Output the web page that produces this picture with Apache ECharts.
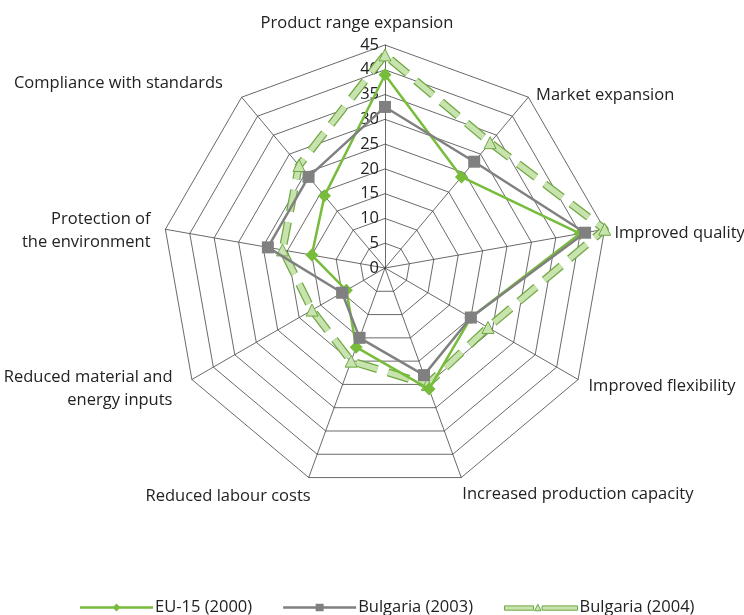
<!DOCTYPE html>
<html>
<head>
<meta charset="utf-8">
<script src="https://cdn.jsdelivr.net/npm/echarts@6/dist/echarts.min.js"></script>
<style>
  html, body { margin: 0; padding: 0; background: #fff; }
  #chart { width: 744px; height: 615px; }
</style>
</head>
<body>
<div id="chart"></div>
<script>
// indicators, counter-clockwise from the top
var indicatorNames = [
  'Product range expansion',
  'Compliance with standards',
  'Protection of\nthe environment',
  'Reduced material and\nenergy inputs',
  'Reduced labour costs',
  'Increased production capacity',
  'Improved flexibility',
  'Improved quality',
  'Market expansion'
];
var axisMax = 45;
var axisSplit = 9;
var eu15 = [39, 19, 15, 9, 17, 26, 20, 40, 24];
var bg2003 = [32.5, 24, 24, 10, 15, 23, 20, 41, 28];
var bg2004 = [43, 27, 21, 17, 20, 25, 24, 45, 33];
var seriesNames = ['EU-15 (2000)', 'Bulgaria (2003)', 'Bulgaria (2004)'];

var green = '#77bc3a';
var grey = '#808080';
var lightGreen = '#c8e3ad';
var darkGreen = '#6ea843';
var textColor = '#222222';

// small per-label nudges so the names sit where the original put them
var namePads = [
  [4, 56, 0, 0],
  [0, 11, 10, 0],
  [8, 3, 0, 0],
  [6, 9, 0, 0],
  [14, -6, 0, 0],
  [10, 0, 0, -3],
  [2, 0, 0, 0],
  [12, 0, 0, -2],
  [14, 0, 0, 0]
];
var nameRich = {};
namePads.forEach(function (p, i) {
  nameRich['n' + i] = { fontSize: 16.5, lineHeight: 23, color: textColor, padding: p };
});

var indicators = indicatorNames.map(function (n, i) {
  var ind = { name: n, max: axisMax, min: 0 };
  if (i === 0) ind.axisLabel = { show: true };
  return ind;
});

var chart = echarts.init(document.getElementById('chart'));

var option = {
  animation: false,
  textStyle: { fontFamily: 'Open Sans' },
  legend: {
    top: 594,
    left: 75,
    itemWidth: 73,
    itemHeight: 10,
    itemGap: 31,
    textStyle: { fontSize: 16.5, color: textColor, padding: [0, 0, 0, -3] },
    data: [
      {
        name: seriesNames[0],
        icon: 'path://M0,3.8L73,3.8L73,6.2L0,6.2Z M32.5,5L36.5,1L40.5,5L36.5,9Z',
        itemStyle: { color: green }
      },
      {
        name: seriesNames[1],
        icon: 'path://M0,3.8L73,3.8L73,6.2L0,6.2Z M32.5,1.3L40.5,1.3L40.5,8.7L32.5,8.7Z',
        itemStyle: { color: grey }
      },
      {
        name: seriesNames[2],
        icon: 'path://M0,3L27,3L27,7L0,7Z M31,1.5L34,7.5L28,7.5Z M35,3L68,3L68,7L35,7Z',
        itemStyle: { color: lightGreen, borderColor: darkGreen, borderWidth: 1 }
      }
    ]
  },
  radar: {
    center: [385, 268],
    radius: 223,
    startAngle: 90,
    shape: 'polygon',
    splitNumber: axisSplit,
    indicator: indicators,
    axisName: {
      color: textColor,
      fontSize: 16.5,
      lineHeight: 23,
      formatter: function (name) {
        var i = indicatorNames.indexOf(name);
        return '{n' + i + '|' + name + '}';
      },
      rich: nameRich
    },
    nameGap: 12,
    axisLine: { lineStyle: { color: '#444', width: 0.8 } },
    splitLine: { lineStyle: { color: '#444', width: 0.8 } },
    splitArea: { show: false },
    axisTick: { show: false },
    axisLabel: { show: false, color: textColor, fontSize: 16.5, margin: 6 }
  },
  series: [
    {
      name: 'bg2004-outline',
      type: 'radar',
      silent: true,
      symbol: 'none',
      z: 1,
      lineStyle: { color: darkGreen, width: 8, type: [22, 11], cap: 'butt' },
      data: [{ value: bg2004, name: 'bg2004-outline' }]
    },
    {
      name: seriesNames[2],
      type: 'radar',
      z: 2,
      symbol: 'triangle',
      symbolSize: 12,
      itemStyle: { color: lightGreen, borderColor: darkGreen, borderWidth: 1 },
      lineStyle: { color: lightGreen, width: 5.5, type: [22, 11], cap: 'butt' },
      data: [{ value: bg2004, name: seriesNames[2] }]
    },
    {
      name: seriesNames[0],
      type: 'radar',
      z: 3,
      symbol: 'diamond',
      symbolSize: 13,
      itemStyle: { color: green },
      lineStyle: { color: green, width: 2.5 },
      data: [{ value: eu15, name: seriesNames[0] }]
    },
    {
      name: seriesNames[1],
      type: 'radar',
      z: 4,
      symbol: 'rect',
      symbolSize: 12,
      itemStyle: { color: grey },
      lineStyle: { color: grey, width: 2.5 },
      data: [{ value: bg2003, name: seriesNames[1] }]
    }
  ]
};

chart.setOption(option);
</script>
</body>
</html>
